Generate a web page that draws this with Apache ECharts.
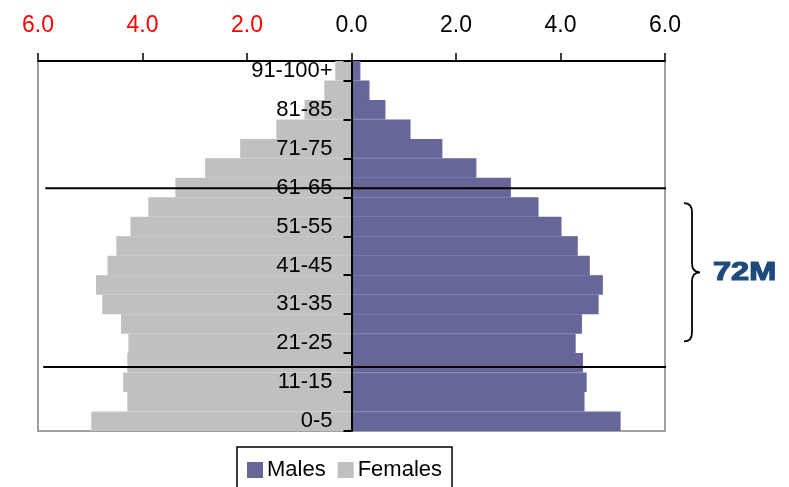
<!DOCTYPE html>
<html>
<head>
<meta charset="utf-8">
<script src="https://cdn.jsdelivr.net/npm/echarts@6/dist/echarts.min.js"></script>
<style>
html,body{margin:0;padding:0;background:#fff;}
#chart{width:789px;height:487px;}
</style>
</head>
<body>
<div id="chart"></div>
<script>
// Age groups, bottom to top
var ageGroups = ['0-5','6-10','11-15','16-20','21-25','26-30','31-35','36-40','41-45','46-50',
                 '51-55','56-60','61-65','66-70','71-75','76-80','81-85','86-90','91-100+'];
// Percent of population (Males to the right, Females to the left)
var males   = [5.15,4.46,4.50,4.43,4.29,4.41,4.73,4.81,4.56,4.33,4.02,3.58,3.05,2.39,1.74,1.13,0.65,0.345,0.17];
var females = [4.98,4.29,4.37,4.29,4.27,4.41,4.77,4.89,4.67,4.50,4.23,3.89,3.37,2.80,2.13,1.44,0.90,0.52,0.31];
// Reference lines (age-band position, x extent)
var refLine1 = [[-5.86,12.47],[6.09,12.47]];
var refLine2 = [[-5.90,3.29],[6.05,3.29]];
var bracketLabel = '72M';
var bracketRange = [[6, 11.7, 4.6]];

var FONT = '"Liberation Sans", Arial, sans-serif';
var chart = echarts.init(document.getElementById('chart'));
var femalesNeg = females.map(function(v){return -v;});

var GRID_L = 38, GRID_R = 124;
var plotW = 789 - GRID_L - GRID_R;

var option = {
  animation: false,
  textStyle: {fontFamily: FONT},
  grid: {left: GRID_L, right: GRID_R, top: 61, bottom: 56, show: true, borderColor: '#a0a0a0', borderWidth: 2,
         backgroundColor: 'transparent', containLabel: false, outerBoundsMode: 'none'},
  legend: {
    data: ['Males','Females'],
    left: 237, top: 447,
    orient: 'horizontal',
    itemWidth: 14, itemHeight: 14, itemGap: 12,
    icon: 'rect',
    padding: [12, 10, 30, 10],
    borderColor: '#000', borderWidth: 1.5,
    textStyle: {fontSize: 22, color: '#000', fontFamily: FONT}
  },
  xAxis: {
    type: 'value', position: 'top',
    min: -6, max: 6, interval: 2,
    axisLine: {show: true, onZero: false, lineStyle: {color: '#000', width: 2}},
    axisTick: {show: true, length: 8, lineStyle: {color: '#000', width: 1.5}},
    splitLine: {show: false},
    axisLabel: {
      margin: 24, fontSize: 23, fontFamily: FONT,
      formatter: function(v){ return Math.abs(v).toFixed(1); },
      color: function(v){ return v < 0 ? '#ff0000' : '#000000'; }
    }
  },
  yAxis: [{
    type: 'category', data: ageGroups,
    position: 'left', offset: -plotW / 2,
    z: 6,
    axisLine: {show: true, onZero: false, lineStyle: {color: '#000', width: 2}},
    axisTick: {show: true, interval: 1, length: 8, lineStyle: {color: '#000', width: 2}},
    axisLabel: {interval: 1, margin: 19, fontSize: 22, color: '#000', fontFamily: FONT},
    splitLine: {show: false}
  },{
    type: 'value', min: 0, max: 19, show: false,
    axisLine: {show: false}, splitLine: {show: false}
  }],
  series: [
    {name: 'Males', type: 'bar', data: males, barCategoryGap: '0%', barGap: '-100%',
     itemStyle: {color: '#666699', borderColor: '#666699', borderWidth: 1.2}, z: 2},
    {name: 'Females', type: 'bar', data: femalesNeg, barCategoryGap: '0%', barGap: '-100%',
     itemStyle: {color: '#C0C0C0', borderColor: '#C0C0C0', borderWidth: 1.2}, z: 2},
    {name: 'ref1', type: 'line', yAxisIndex: 1, data: refLine1, symbol: 'none', clip: false, silent: true,
     lineStyle: {color: '#000', width: 2}, z: 8},
    {name: 'ref2', type: 'line', yAxisIndex: 1, data: refLine2, symbol: 'none', clip: false, silent: true,
     lineStyle: {color: '#000', width: 2}, z: 8},
    {name: 'bracket', type: 'custom', yAxisIndex: 1, data: bracketRange, clip: false, silent: true, z: 8,
     renderItem: function(params, api){
       var pT = api.coord([api.value(0), api.value(1)]);
       var pB = api.coord([api.value(0), api.value(2)]);
       var xr = pT[0] + 19, yt = pT[1], yb = pB[1], ym = (yt + yb) / 2;
       var xs = xr + 8, xm = xs + 8;
       var d = 'M' + xr + ' ' + yt + ' Q' + xs + ' ' + yt + ' ' + xs + ' ' + (yt + 9) +
               ' L' + xs + ' ' + (ym - 9) + ' Q' + xs + ' ' + ym + ' ' + xm + ' ' + ym +
               ' Q' + xs + ' ' + ym + ' ' + xs + ' ' + (ym + 9) +
               ' L' + xs + ' ' + (yb - 9) + ' Q' + xs + ' ' + yb + ' ' + xr + ' ' + yb;
       return {type: 'group', children: [
         {type: 'path', shape: {pathData: d}, style: {fill: null, stroke: '#000', lineWidth: 1.8}},
         {type: 'text', x: xm + 13, y: ym + 1, scaleX: 1.25,
          style: {text: bracketLabel, font: 'bold 26px ' + FONT, fill: '#1F4A7E', stroke: '#1F4A7E', lineWidth: 1.2,
                  verticalAlign: 'middle', align: 'left'}}
       ]};
     }}
  ]
};
chart.setOption(option);
</script>
</body>
</html>
